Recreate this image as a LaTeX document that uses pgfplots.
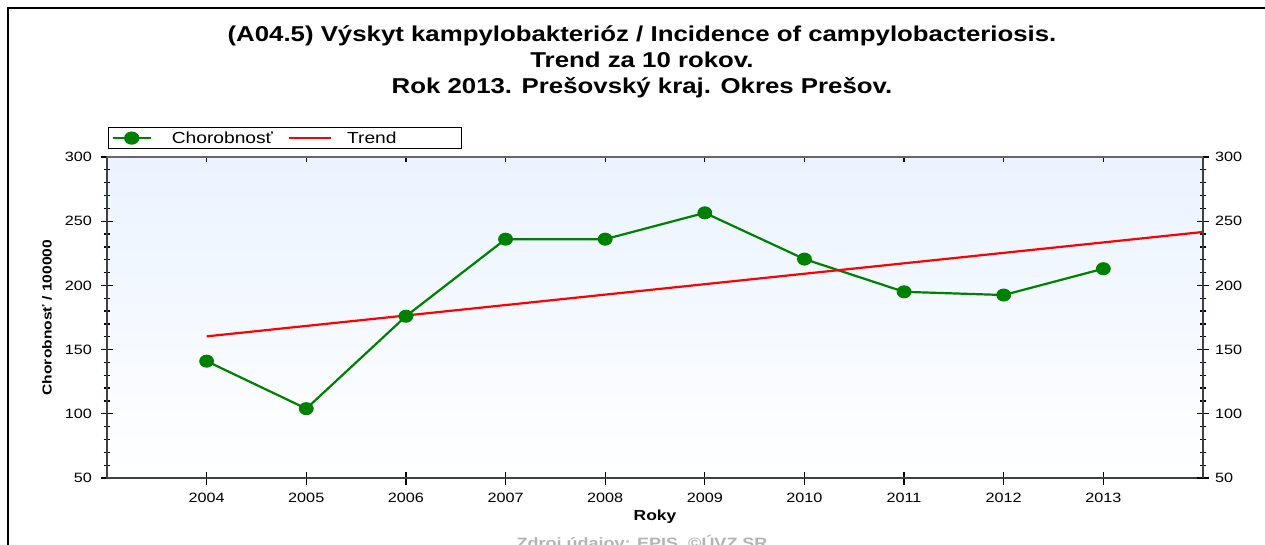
\documentclass[border=0pt]{standalone}
\usepackage{fontspec}
\setmainfont{Liberation Sans}[FakeStretch=1.2]
\usepackage{pgfplots}
\pgfplotsset{compat=1.18}
\definecolor{bgtop}{RGB}{234,243,255}
\definecolor{dgreen}{RGB}{0,128,0}
\definecolor{srcgray}{RGB}{180,180,180}
\begin{document}
\begin{tikzpicture}[x=1pt,y=1pt]
\useasboundingbox (0,0) rectangle (1265,544);
\clip (0,0) rectangle (1265,544);
\fill[white] (0,0) rectangle (1265,544);
\draw[line width=2pt] (8,-5) -- (8,536) -- (1270,536);
\node[align=center, font=\fontsize{21.5}{26}\selectfont\bfseries] at (642,482)
  {(A04.5) Výskyt kampylobakterióz / Incidence of campylobacteriosis.\\Trend za 10 rokov.\\Rok 2013. Prešovský kraj. Okres Prešov.};
\node[font=\fontsize{15}{18}\selectfont\bfseries, text=srcgray] at (642,1) {Zdroj údajov: EPIS, ©ÚVZ SR};
\begin{axis}[
  at={(107pt,66pt)}, anchor=south west,
  scale only axis, width=1096pt, height=321pt,
  xmin=2003, xmax=2014, ymin=50, ymax=300,
  axis background/.style={shade, top color=bgtop, bottom color=white},
  axis line style={line width=1.3pt, black!75},
  xtick={2004,2005,...,2013},
  ytick={50,100,...,300},
  minor y tick num=4,
  xtick pos=bottom, ytick pos=left,
  tick align=center,
  major tick length=13pt, minor tick length=7pt,
  tick style={black, line width=1.3pt},
  xticklabel style={/pgf/number format/1000 sep={}, yshift=-5pt},
  yticklabel style={xshift=-5pt},
  /pgf/number format/assume math mode=true,
  ticklabel style={font=\fontsize{13.5}{15}\selectfont},
  xlabel={Roky}, ylabel={Chorobnosť / 100000},
  xlabel style={font=\fontsize{14.5}{16}\selectfont\bfseries, at={(axis description cs:0.5,0)}, anchor=center, yshift=-39pt},
  ylabel style={font=\fontsize{13}{15}\selectfont\bfseries, at={(axis description cs:0,0.5)}, anchor=center, rotate=0, yshift=60pt},
  legend columns=2,
  legend style={at={(rel axis cs:0.001,1.0935)}, anchor=north west, draw=black, line width=1pt,
    fill=white, inner xsep=3pt, inner ysep=4pt, column sep=0pt,
    font=\fontsize{16}{18}\selectfont,
    nodes={inner sep=0pt, anchor=base west, text depth=0pt}},
  clip=false
]
\addplot[color=dgreen, line width=2.2pt, mark=*, mark size=6pt, mark options={xscale=1.15, fill=dgreen, draw=dgreen, line width=1pt},
  legend image code/.code={\draw[dgreen, line width=2.2pt] (0pt,5.5pt) -- (38pt,5.5pt); \fill[dgreen] (19pt,5.5pt) ellipse[x radius=6.5pt, y radius=5.5pt];}]
  coordinates {(2004,141) (2005,104) (2006,176) (2007,236) (2008,236) (2009,256.5) (2010,220.5) (2011,195) (2012,192.5) (2013,213)};
\addlegendentry{\rule{20pt}{0pt}Chorobnosť\rule{15pt}{0pt}}
\addplot[color=red, line width=2.2pt, mark=none,
  legend image code/.code={\draw[red, line width=2.2pt] (0pt,5.5pt) -- (42pt,5.5pt);}]
  coordinates {(2004,160.3) (2014,241.6)};
\addlegendentry{\rule{15pt}{0pt}Trend\rule{62pt}{0pt}}
\end{axis}
\begin{axis}[
  at={(107pt,66pt)}, anchor=south west,
  scale only axis, width=1096pt, height=321pt,
  xmin=2003, xmax=2014, ymin=50, ymax=300,
  axis x line=none, axis y line*=right,
  axis line style={line width=1.3pt, black!75},
  ytick={50,100,...,300}, minor y tick num=4,
  tick align=center, major tick length=13pt, minor tick length=7pt,
  tick style={black, line width=1.3pt},
  yticklabel style={xshift=2pt},
  /pgf/number format/assume math mode=true,
  ticklabel style={font=\fontsize{13.5}{15}\selectfont},
]
\addplot[draw=none] coordinates {(2004,100)};
\end{axis}
\begin{axis}[
  at={(107pt,66pt)}, anchor=south west,
  scale only axis, width=1096pt, height=321pt,
  xmin=2003, xmax=2014, ymin=50, ymax=300,
  axis y line=none, axis x line*=top,
  axis line style={line width=1.3pt, black!60},
  xtick={2004,2005,...,2013}, xticklabels={},
  tick align=inside, major tick length=5pt,
  tick style={black, line width=1.3pt},
]
\addplot[draw=none] coordinates {(2004,100)};
\end{axis}
\end{tikzpicture}
\end{document}
